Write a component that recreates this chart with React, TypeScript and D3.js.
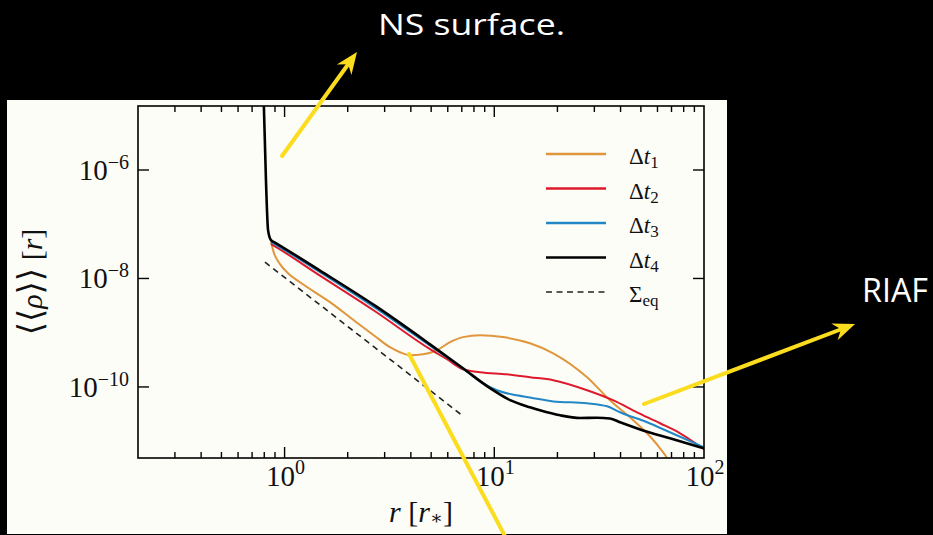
import React, { useEffect, useRef } from "react";
import * as d3 from "d3";

const W = 933;
const H = 535;

// radial profiles <<rho>>(r), r in units of r_*
const t1R = [0.861, 0.89, 0.951, 1.038, 1.185, 1.647, 2.167, 2.7, 3.18, 3.55, 3.96, 4.57, 5.33, 6.15, 7.09, 8.55, 11.0, 14.8, 19.1, 27.7, 35.6, 44.4, 53.5, 61.7, 66.6, 70];
const t1Rho = [4.69e-8, 2.94e-8, 1.84e-8, 1.25e-8, 8.5e-9, 3.66e-9, 1.63e-9, 8.6e-10, 5.4e-10, 4.37e-10, 3.85e-10, 4.0e-10, 4.75e-10, 6.7e-10, 8.3e-10, 9.0e-10, 8.3e-10, 6.4e-10, 4.18e-10, 1.51e-10, 5.7e-11, 2.75e-11, 1.4e-11, 7.4e-12, 4.9e-12, 3.4e-12];

const t2R = [0.861, 0.9, 1.475, 2.7, 4.94, 5.95, 7.09, 8.55, 11.5, 14.8, 19.1, 27.7, 36.8, 47.9, 61.7, 76.9, 100];
const t2Rho = [4.31e-8, 3.9e-8, 1.13e-8, 2.49e-9, 4.97e-10, 3.24e-10, 2.12e-10, 1.87e-10, 1.71e-10, 1.51e-10, 1.33e-10, 8.7e-11, 5.7e-11, 3.41e-11, 2.14e-11, 1.4e-11, 7.1e-12];

const t3R = [0.861, 0.9, 1.475, 2.7, 4.94, 7.09, 8.55, 10.3, 12.8, 14.8, 19.1, 27.7, 34.5, 39.8, 53.5, 68.8, 100];
const t3Rho = [4.69e-8, 4.25e-8, 1.31e-8, 2.9e-9, 5.75e-10, 2.17e-10, 1.27e-10, 8.7e-11, 7.0e-11, 6.4e-11, 5.4e-11, 5.0e-11, 4.4e-11, 3.41e-11, 2.23e-11, 1.46e-11, 7.7e-12];

const t4R = [0.795, 0.815, 0.834, 0.861, 0.9, 1.475, 2.7, 4.94, 7.09, 9.54, 11.9, 14.8, 16.5, 20.6, 25.6, 30.9, 35.6, 39.8, 51.2, 68.8, 100];
const t4Rho = [2e-5, 6.5e-7, 7.8e-8, 5.1e-8, 4.6e-8, 1.4e-8, 3.15e-9, 6.1e-10, 2.21e-10, 9.5e-11, 5.7e-11, 4.22e-11, 3.72e-11, 3.0e-11, 2.68e-11, 2.7e-11, 2.62e-11, 2.23e-11, 1.58e-11, 1.13e-11, 7.4e-12];

const eqR = [0.806, 7.02];
const eqRho = [2.0e-8, 3.0e-11];

const seriesSub = ["1", "2", "3", "4"];
const seriesColors = ["#e0963c", "#dc1a2c", "#2287c4", "#000000"];

const xTicks = [1, 10, 100];
const xTickExp = ["0", "1", "2"];
const yTicks = [1e-6, 1e-8, 1e-10];
const yTickExp = ["\u22126", "\u22128", "\u221210"];

const YELLOW = "#fbdc1e";

export default function App() {
  const svgRef = useRef<SVGSVGElement>(null);

  useEffect(() => {
    if (!svgRef.current) return;
    const svg = d3.select(svgRef.current);
    svg.selectAll("*").remove();

    const left = 138, right = 704, top = 106, bottom = 458;

    svg.append("rect").attr("width", W).attr("height", H).attr("fill", "#000");
    svg.append("rect")
      .attr("x", 7).attr("y", 100).attr("width", 720).attr("height", 434)
      .attr("fill", "#fdfdf8");

    const x = d3.scaleLog().domain([0.2, 100]).range([left, right]);
    const y = d3.scaleLog().domain([Math.pow(10, -11.31), Math.pow(10, -4.82)]).range([bottom, top]);

    svg.append("defs").append("clipPath").attr("id", "plotClip")
      .append("rect")
      .attr("x", left).attr("y", top)
      .attr("width", right - left).attr("height", bottom - top);

    const line = d3.line<[number, number]>()
      .x(d => x(d[0]))
      .y(d => y(d[1]))
      .curve(d3.curveMonotoneX);

    const pairs = (rs: number[], vs: number[]) => rs.map((r, i) => [r, vs[i]] as [number, number]);
    const series = [pairs(t1R, t1Rho), pairs(t2R, t2Rho), pairs(t3R, t3Rho), pairs(t4R, t4Rho)];

    const plot = svg.append("g").attr("clip-path", "url(#plotClip)");

    series.forEach((s, i) => {
      plot.append("path")
        .datum(s)
        .attr("fill", "none")
        .attr("stroke", seriesColors[i])
        .attr("stroke-width", i === 3 ? 2.6 : 2)
        .attr("stroke-linejoin", "round")
        .attr("d", line);
    });

    plot.append("path")
      .datum(pairs(eqR, eqRho))
      .attr("fill", "none")
      .attr("stroke", "#222")
      .attr("stroke-width", 1.6)
      .attr("stroke-dasharray", "6,4.5")
      .attr("d", d3.line<[number, number]>().x(d => x(d[0])).y(d => y(d[1])));

    // frame
    svg.append("rect")
      .attr("x", left).attr("y", top)
      .attr("width", right - left).attr("height", bottom - top)
      .attr("fill", "none").attr("stroke", "#000").attr("stroke-width", 1.6);

    // x ticks (major + minor, top and bottom, inward)
    const isMajor = (d: number) => Math.abs(Math.log10(d) - Math.round(Math.log10(d))) < 1e-6;
    const xAll = x.ticks().filter(d => d > 0.2 && d < 100);
    const ticks = svg.append("g").attr("stroke", "#000").attr("stroke-width", 1.4);
    xAll.forEach(d => {
      const len = isMajor(d) ? 11 : 6;
      ticks.append("line").attr("x1", x(d)).attr("x2", x(d)).attr("y1", bottom).attr("y2", bottom - len);
      ticks.append("line").attr("x1", x(d)).attr("x2", x(d)).attr("y1", top).attr("y2", top + len);
    });
    yTicks.forEach(d => {
      ticks.append("line").attr("x1", left).attr("x2", left + 11).attr("y1", y(d)).attr("y2", y(d));
      ticks.append("line").attr("x1", right).attr("x2", right - 11).attr("y1", y(d)).attr("y2", y(d));
    });

    const serif = "'Liberation Serif', 'DejaVu Serif', serif";

    xTicks.forEach((d, i) => {
      const t = svg.append("text")
        .attr("x", x(d) + 1).attr("y", 486)
        .attr("text-anchor", "middle")
        .attr("font-family", serif).attr("font-size", 29).attr("fill", "#111");
      t.append("tspan").text("10");
      t.append("tspan").attr("font-size", 20).attr("dy", -12).text(xTickExp[i]);
    });

    yTicks.forEach((d, i) => {
      const t = svg.append("text")
        .attr("x", 129).attr("y", y(d) + 10)
        .attr("text-anchor", "end")
        .attr("font-family", serif).attr("font-size", 29).attr("fill", "#111");
      t.append("tspan").text("10");
      t.append("tspan").attr("font-size", 20).attr("dy", -11).text(yTickExp[i]);
    });

    // axis labels
    const xl = svg.append("text")
      .attr("x", (left + right) / 2).attr("y", 522)
      .attr("text-anchor", "middle")
      .attr("font-family", serif).attr("font-size", 30).attr("fill", "#111");
    xl.append("tspan").attr("font-style", "italic").text("r");
    xl.append("tspan").text(" [");
    xl.append("tspan").attr("font-style", "italic").text("r");
    xl.append("tspan").attr("font-size", 19).attr("dy", 2).text("\u2217");
    xl.append("tspan").attr("dy", -2).text("]");

    const yl = svg.append("text")
      .attr("transform", `translate(42, ${(top + bottom) / 2}) rotate(-90)`)
      .attr("text-anchor", "middle")
      .attr("font-family", serif).attr("font-size", 30).attr("fill", "#111");
    yl.append("tspan").attr("font-size", 34).text("\u27e8\u27e8");
    yl.append("tspan").attr("font-style", "italic").text("\u03c1");
    yl.append("tspan").attr("font-size", 34).text("\u27e9\u27e9");
    yl.append("tspan").text(" [");
    yl.append("tspan").attr("font-style", "italic").text("r");
    yl.append("tspan").text("]");

    // legend
    const legend = svg.append("g").attr("transform", "translate(546, 154)");
    const rows = seriesSub.map((s, i) => ({ sub: s, color: seriesColors[i], dash: false, eq: false }))
      .concat([{ sub: "eq", color: "#222", dash: true, eq: true }]);
    rows.forEach((row, i) => {
      const g = legend.append("g").attr("transform", `translate(0, ${i * 34.5})`);
      g.append("line")
        .attr("x1", 0).attr("x2", 60).attr("y1", 0).attr("y2", 0)
        .attr("stroke", row.color)
        .attr("stroke-width", row.dash ? 1.6 : 2.4)
        .attr("stroke-dasharray", row.dash ? "6,4.5" : null);
      const t = g.append("text")
        .attr("x", 83).attr("y", 10)
        .attr("font-family", serif).attr("font-size", 23).attr("fill", "#111");
      if (row.eq) {
        t.append("tspan").text("\u03a3");
      } else {
        t.append("tspan").text("\u0394");
        t.append("tspan").attr("font-style", "italic").text("t");
      }
      t.append("tspan").attr("font-size", 17).attr("dy", 4).text(row.sub);
    });

    // annotations
    const ann = svg.append("g");
    const arrow = (x1: number, y1: number, x2: number, y2: number, head: boolean) => {
      const ang = Math.atan2(y2 - y1, x2 - x1);
      const back = head ? 12 : 0;
      ann.append("line")
        .attr("x1", x1).attr("y1", y1)
        .attr("x2", x2 - back * Math.cos(ang)).attr("y2", y2 - back * Math.sin(ang))
        .attr("stroke", YELLOW).attr("stroke-width", 4).attr("stroke-linecap", "round");
      if (!head) return;
      const L = 22, Wd = 9, N = 15;
      const pt = (a: number, b: number) => [x2 + a * Math.cos(ang) - b * Math.sin(ang), y2 + a * Math.sin(ang) + b * Math.cos(ang)];
      const p = [pt(0, 0), pt(-L, -Wd), pt(-N, 0), pt(-L, Wd)];
      ann.append("path")
        .attr("d", "M" + p.map(q => q.join(",")).join("L") + "Z")
        .attr("fill", YELLOW);
    };
    arrow(282, 156, 357, 52, true);
    arrow(644, 404, 855, 324, true);
    arrow(409, 354, 507, 540, false);

    const sans = "'Open Sans', Inter, sans-serif";
    ann.append("text")
      .attr("x", 378).attr("y", 35)
      .attr("font-family", sans).attr("font-size", 30).attr("fill", "#fff")
      .attr("textLength", 187).attr("lengthAdjust", "spacingAndGlyphs")
      .text("NS surface.");
    ann.append("text")
      .attr("x", 862).attr("y", 302)
      .attr("font-family", sans).attr("font-size", 32).attr("fill", "#fff")
      .attr("textLength", 66).attr("lengthAdjust", "spacingAndGlyphs")
      .text("RIAF");
  }, []);

  return (
    <svg
      ref={svgRef}
      width={W}
      height={H}
      style={{ position: "absolute", left: 0, top: 0, display: "block" }}
    />
  );
}
